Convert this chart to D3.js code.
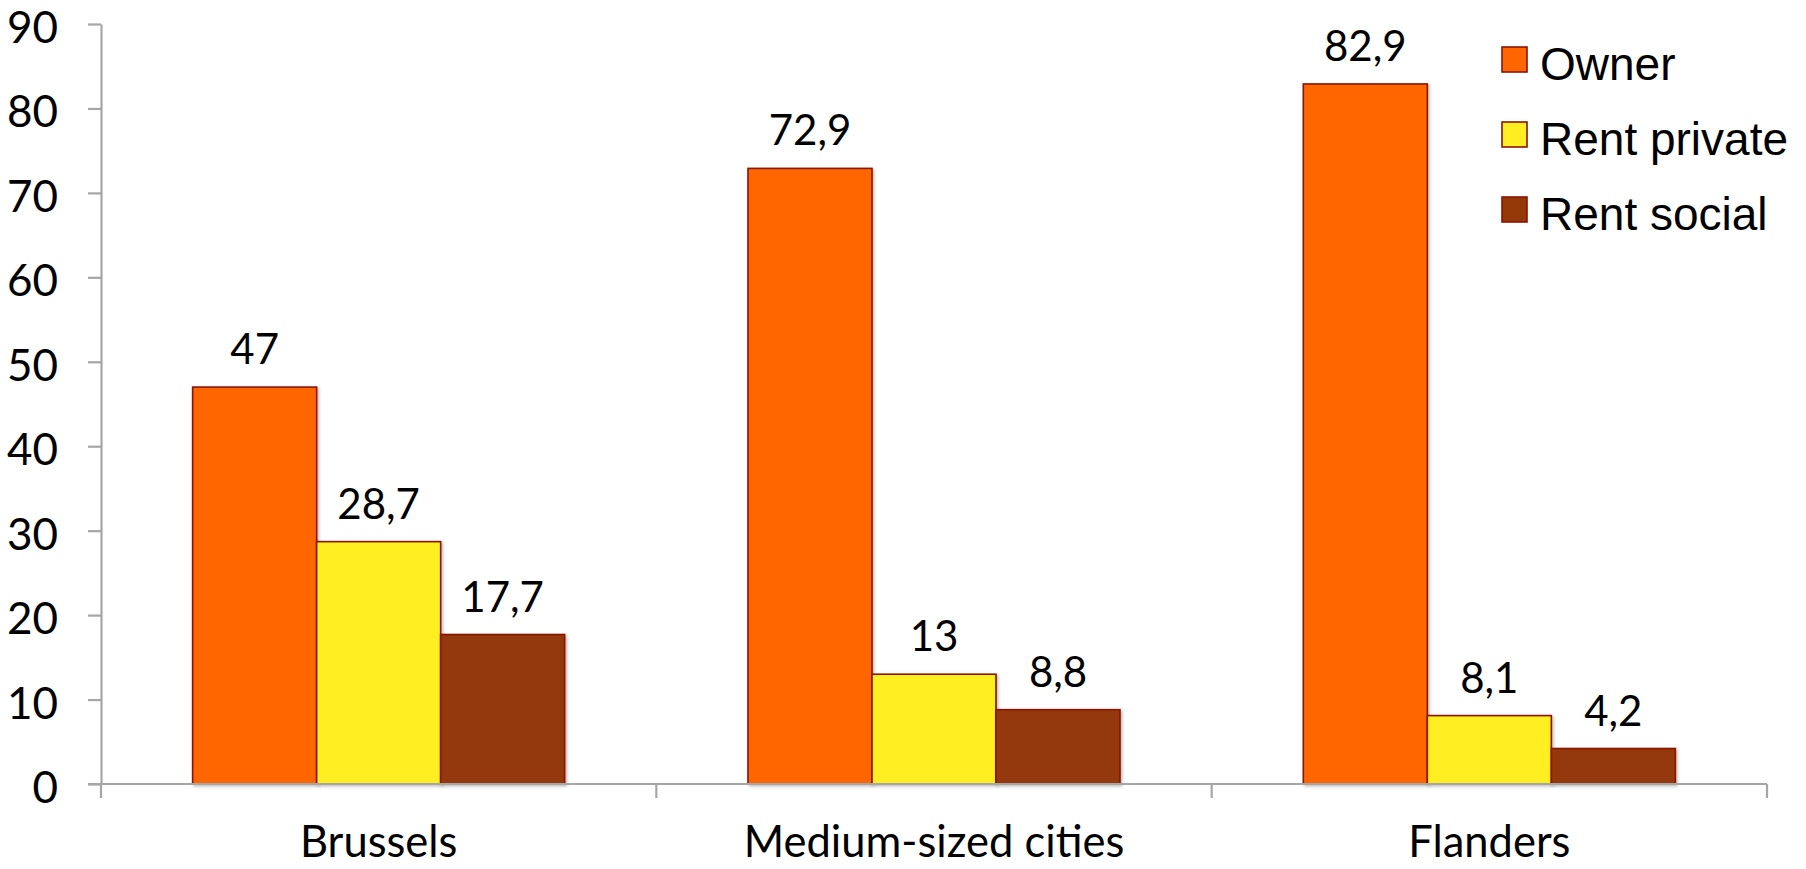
<!DOCTYPE html>
<html>
<head>
<meta charset="utf-8">
<script src="https://cdn.jsdelivr.net/npm/d3@7"></script>
<style>
  html, body { margin: 0; padding: 0; background: #fff; }
  svg { display: block; }
</style>
</head>
<body>
<svg id="chart" width="1806" height="869"></svg>
<script>
// Housing tenure shares (%) by area
const categories = ["Brussels", "Medium-sized cities", "Flanders"];
const seriesNames = ["Owner", "Rent private", "Rent social"];
const owner = [47, 72.9, 82.9];
const rentPrivate = [28.7, 13, 8.1];
const rentSocial = [17.7, 8.8, 4.2];
const yTicks = [0, 10, 20, 30, 40, 50, 60, 70, 80, 90];

const seriesColors = ["#ff6600", "#ffee22", "#943808"];
const seriesValues = [owner, rentPrivate, rentSocial];

const svg = d3.select("#chart");
const plot = { left: 101, right: 1767, top: 24, bottom: 784 };
const axisColor = "#a6a6a6";
const labelFont = "Lato, 'Open Sans', sans-serif";

const defs = svg.append("defs");
const shadow = defs.append("filter").attr("id", "barShadow")
  .attr("x", "-10%").attr("y", "-10%").attr("width", "130%").attr("height", "130%");
shadow.append("feDropShadow").attr("dx", 1.5).attr("dy", 1.5)
  .attr("stdDeviation", 1.8).attr("flood-color", "#000").attr("flood-opacity", 0.28);

const x0 = d3.scaleBand().domain(categories).range([plot.left, plot.right]).padding(0);
const x1 = d3.scaleBand().domain(seriesNames).range([0, x0.bandwidth()])
  .paddingInner(0).paddingOuter(0.739);
const y = d3.scaleLinear().domain([0, 90]).range([plot.bottom, plot.top]);
const color = d3.scaleOrdinal().domain(seriesNames).range(seriesColors);

const fmt = v => String(v).replace(".", ",");

// Bars
const rows = [];
categories.forEach((c, i) => {
  seriesNames.forEach((s, j) => rows.push({ cat: c, series: s, value: seriesValues[j][i] }));
});

const barG = svg.append("g");
barG.selectAll("rect").data(rows).join("rect")
  .attr("x", d => x0(d.cat) + x1(d.series))
  .attr("y", d => y(d.value))
  .attr("width", x1.bandwidth())
  .attr("height", d => y(0) - y(d.value))
  .attr("fill", d => color(d.series))
  .attr("stroke", "#8a1500")
  .attr("stroke-width", 1.6)
  .attr("filter", "url(#barShadow)");

// Value labels
svg.append("g").selectAll("text").data(rows).join("text")
  .attr("x", d => x0(d.cat) + x1(d.series) + x1.bandwidth() / 2)
  .attr("y", d => y(d.value) - 23)
  .attr("text-anchor", "middle")
  .attr("font-family", labelFont)
  .attr("font-size", 42)
  .attr("fill", "#000")
  .text(d => fmt(d.value));

// Y axis
const yAxis = svg.append("g")
  .attr("transform", `translate(${plot.left},0)`)
  .call(d3.axisLeft(y).tickValues(yTicks).tickSize(13).tickPadding(30).tickSizeOuter(0));
yAxis.select(".domain").attr("stroke", axisColor).attr("stroke-width", 2.2);
yAxis.selectAll(".tick line").attr("stroke", axisColor).attr("stroke-width", 2.2);
yAxis.selectAll(".tick text")
  .attr("font-family", labelFont)
  .attr("font-size", 44)
  .attr("fill", "#000")
  .attr("dy", "0.42em");

// X axis baseline and category boundary ticks
const xAxisG = svg.append("g");
xAxisG.append("line")
  .attr("x1", plot.left - 13).attr("x2", plot.right)
  .attr("y1", y(0)).attr("y2", y(0))
  .attr("stroke", axisColor).attr("stroke-width", 2.2);
const bounds = categories.map(c => x0(c)).concat([x0.range()[1]]);
xAxisG.selectAll("line.bound").data(bounds).join("line")
  .attr("class", "bound")
  .attr("x1", d => d).attr("x2", d => d)
  .attr("y1", y(0)).attr("y2", y(0) + 14)
  .attr("stroke", axisColor).attr("stroke-width", 2.2);

// Category labels
const xLabels = svg.append("g")
  .attr("transform", `translate(0,${y(0)})`)
  .call(d3.axisBottom(x0).tickSize(0).tickPadding(0));
xLabels.select(".domain").remove();
xLabels.selectAll(".tick text")
  .attr("y", 73)
  .attr("dy", 0)
  .attr("font-family", labelFont)
  .attr("font-size", 43.5)
  .attr("fill", "#000");

// Legend
const legend = svg.append("g").attr("transform", "translate(1502,47)");
const items = legend.selectAll("g").data(seriesNames).join("g")
  .attr("transform", (d, i) => `translate(0,${i * 75})`);
items.append("rect")
  .attr("width", 25).attr("height", 25)
  .attr("fill", d => color(d))
  .attr("stroke", "#8a1500").attr("stroke-width", 1.6);
items.append("text")
  .attr("x", 38).attr("y", 33)
  .attr("font-family", "'Liberation Sans', Arial, sans-serif")
  .attr("font-size", 46)
  .attr("fill", "#000")
  .text(d => d);
</script>
</body>
</html>
